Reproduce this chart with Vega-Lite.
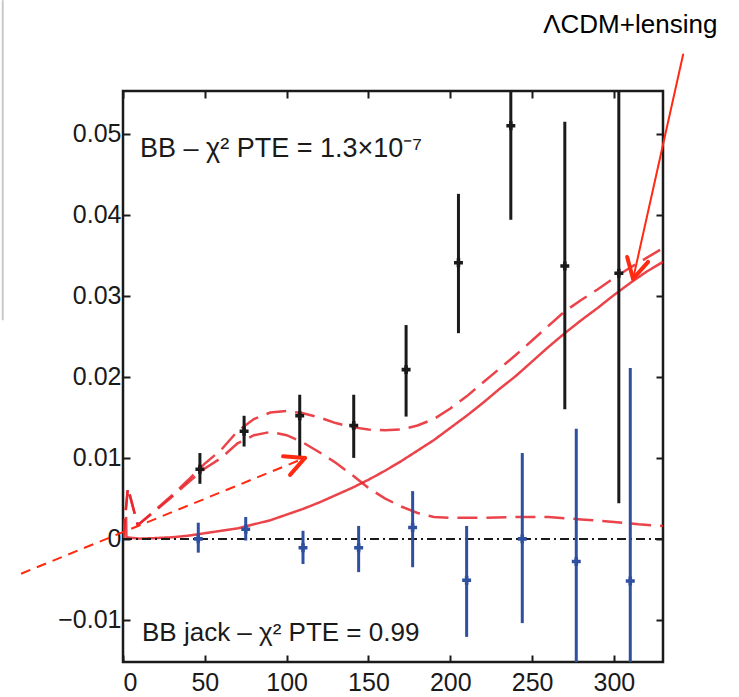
{
  "$schema": "https://vega.github.io/schema/vega-lite/v6.json",
  "width": 540,
  "height": 571,
  "autosize": {"type": "none"},
  "padding": {"left": 123, "top": 91, "right": 76, "bottom": 35},
  "background": "white",
  "config": {
    "view": {"stroke": "#1a1a1a", "strokeWidth": 2.5},
    "font": "Liberation Sans",
    "axis": {"domain": false, "grid": false, "tickColor": "#1a1a1a", "tickWidth": 2, "tickSize": -7, "labelFont": "Liberation Sans", "labelFontSize": 25, "labelColor": "#1a1a1a", "title": null}
  },
  "datasets": {
    "bb": [
      {"ell": 47, "val": 0.0086, "lo": 0.0068, "hi": 0.0106},
      {"ell": 74, "val": 0.0133, "lo": 0.0114, "hi": 0.0152},
      {"ell": 108, "val": 0.0152, "lo": 0.0100, "hi": 0.0178},
      {"ell": 141, "val": 0.0140, "lo": 0.0100, "hi": 0.0178},
      {"ell": 173, "val": 0.0209, "lo": 0.0151, "hi": 0.0264},
      {"ell": 205, "val": 0.0341, "lo": 0.0254, "hi": 0.0426},
      {"ell": 237, "val": 0.0510, "lo": 0.0394, "hi": 0.0600},
      {"ell": 270, "val": 0.0337, "lo": 0.0160, "hi": 0.0515},
      {"ell": 303, "val": 0.0328, "lo": 0.0044, "hi": 0.0600}
    ],
    "jack": [
      {"ell": 46, "val": 0.0000, "lo": -0.0017, "hi": 0.0020},
      {"ell": 75, "val": 0.0012, "lo": -0.0002, "hi": 0.0027},
      {"ell": 110, "val": -0.0011, "lo": -0.0031, "hi": 0.0010},
      {"ell": 144, "val": -0.0011, "lo": -0.0041, "hi": 0.0016},
      {"ell": 177, "val": 0.0014, "lo": -0.0035, "hi": 0.0059},
      {"ell": 210, "val": -0.0051, "lo": -0.0121, "hi": 0.0016},
      {"ell": 244, "val": 0.0000, "lo": -0.0104, "hi": 0.0106},
      {"ell": 277, "val": -0.0028, "lo": -0.0200, "hi": 0.0136},
      {"ell": 310, "val": -0.0052, "lo": -0.0200, "hi": 0.0211}
    ],
    "curves": [
      {"ell": 0, "val": 0, "model": "lensing"},
      {"ell": 1.9, "val": 0.0027, "model": "lensing"},
      {"ell": 2.1, "val": 0.0002, "model": "lensing"},
      {"ell": 10, "val": 0.00003, "model": "lensing"},
      {"ell": 20, "val": 0.0001, "model": "lensing"},
      {"ell": 30, "val": 0.0002, "model": "lensing"},
      {"ell": 40, "val": 0.0004, "model": "lensing"},
      {"ell": 50, "val": 0.0007, "model": "lensing"},
      {"ell": 60, "val": 0.0010, "model": "lensing"},
      {"ell": 70, "val": 0.0013, "model": "lensing"},
      {"ell": 80, "val": 0.0018, "model": "lensing"},
      {"ell": 90, "val": 0.0023, "model": "lensing"},
      {"ell": 100, "val": 0.0030, "model": "lensing"},
      {"ell": 110, "val": 0.0037, "model": "lensing"},
      {"ell": 120, "val": 0.0045, "model": "lensing"},
      {"ell": 130, "val": 0.0054, "model": "lensing"},
      {"ell": 140, "val": 0.0063, "model": "lensing"},
      {"ell": 150, "val": 0.0073, "model": "lensing"},
      {"ell": 160, "val": 0.0084, "model": "lensing"},
      {"ell": 170, "val": 0.0096, "model": "lensing"},
      {"ell": 180, "val": 0.0109, "model": "lensing"},
      {"ell": 190, "val": 0.0122, "model": "lensing"},
      {"ell": 200, "val": 0.0137, "model": "lensing"},
      {"ell": 210, "val": 0.0152, "model": "lensing"},
      {"ell": 220, "val": 0.0168, "model": "lensing"},
      {"ell": 230, "val": 0.0185, "model": "lensing"},
      {"ell": 240, "val": 0.0201, "model": "lensing"},
      {"ell": 250, "val": 0.0219, "model": "lensing"},
      {"ell": 260, "val": 0.0237, "model": "lensing"},
      {"ell": 270, "val": 0.0254, "model": "lensing"},
      {"ell": 280, "val": 0.0270, "model": "lensing"},
      {"ell": 290, "val": 0.0285, "model": "lensing"},
      {"ell": 300, "val": 0.0301, "model": "lensing"},
      {"ell": 310, "val": 0.0316, "model": "lensing"},
      {"ell": 320, "val": 0.0330, "model": "lensing"},
      {"ell": 330, "val": 0.0342, "model": "lensing"},
      {"ell": 0, "val": 0, "model": "tensor"},
      {"ell": 3, "val": 0.0063, "model": "tensor"},
      {"ell": 9, "val": 0.0017, "model": "tensor"},
      {"ell": 20, "val": 0.0035, "model": "tensor"},
      {"ell": 30, "val": 0.0052, "model": "tensor"},
      {"ell": 40, "val": 0.0070, "model": "tensor"},
      {"ell": 50, "val": 0.0087, "model": "tensor"},
      {"ell": 60, "val": 0.0100, "model": "tensor"},
      {"ell": 70, "val": 0.0118, "model": "tensor"},
      {"ell": 80, "val": 0.0128, "model": "tensor"},
      {"ell": 90, "val": 0.0132, "model": "tensor"},
      {"ell": 100, "val": 0.0128, "model": "tensor"},
      {"ell": 110, "val": 0.0119, "model": "tensor"},
      {"ell": 120, "val": 0.0107, "model": "tensor"},
      {"ell": 130, "val": 0.0094, "model": "tensor"},
      {"ell": 140, "val": 0.0079, "model": "tensor"},
      {"ell": 150, "val": 0.0063, "model": "tensor"},
      {"ell": 160, "val": 0.0050, "model": "tensor"},
      {"ell": 170, "val": 0.0040, "model": "tensor"},
      {"ell": 180, "val": 0.0032, "model": "tensor"},
      {"ell": 190, "val": 0.0027, "model": "tensor"},
      {"ell": 200, "val": 0.0026, "model": "tensor"},
      {"ell": 220, "val": 0.0026, "model": "tensor"},
      {"ell": 240, "val": 0.0027, "model": "tensor"},
      {"ell": 260, "val": 0.0027, "model": "tensor"},
      {"ell": 280, "val": 0.0024, "model": "tensor"},
      {"ell": 300, "val": 0.0021, "model": "tensor"},
      {"ell": 315, "val": 0.0018, "model": "tensor"},
      {"ell": 330, "val": 0.0016, "model": "tensor"},
      {"ell": 0, "val": 0, "model": "total"},
      {"ell": 3, "val": 0.0063, "model": "total"},
      {"ell": 9, "val": 0.0017, "model": "total"},
      {"ell": 20, "val": 0.0036, "model": "total"},
      {"ell": 30, "val": 0.0054, "model": "total"},
      {"ell": 40, "val": 0.0073, "model": "total"},
      {"ell": 50, "val": 0.0093, "model": "total"},
      {"ell": 60, "val": 0.0110, "model": "total"},
      {"ell": 70, "val": 0.0133, "model": "total"},
      {"ell": 80, "val": 0.0148, "model": "total"},
      {"ell": 90, "val": 0.0156, "model": "total"},
      {"ell": 100, "val": 0.0158, "model": "total"},
      {"ell": 110, "val": 0.0155, "model": "total"},
      {"ell": 120, "val": 0.0150, "model": "total"},
      {"ell": 130, "val": 0.0143, "model": "total"},
      {"ell": 140, "val": 0.0138, "model": "total"},
      {"ell": 150, "val": 0.0135, "model": "total"},
      {"ell": 160, "val": 0.0134, "model": "total"},
      {"ell": 170, "val": 0.0135, "model": "total"},
      {"ell": 180, "val": 0.0140, "model": "total"},
      {"ell": 190, "val": 0.0148, "model": "total"},
      {"ell": 200, "val": 0.0161, "model": "total"},
      {"ell": 210, "val": 0.0176, "model": "total"},
      {"ell": 220, "val": 0.0193, "model": "total"},
      {"ell": 230, "val": 0.0210, "model": "total"},
      {"ell": 240, "val": 0.0227, "model": "total"},
      {"ell": 250, "val": 0.0245, "model": "total"},
      {"ell": 260, "val": 0.0263, "model": "total"},
      {"ell": 270, "val": 0.0281, "model": "total"},
      {"ell": 280, "val": 0.0295, "model": "total"},
      {"ell": 290, "val": 0.0308, "model": "total"},
      {"ell": 300, "val": 0.0322, "model": "total"},
      {"ell": 310, "val": 0.0335, "model": "total"},
      {"ell": 320, "val": 0.0347, "model": "total"},
      {"ell": 330, "val": 0.0359, "model": "total"}
    ],
    "zero": [{"ell": 0, "ell2": 330, "val": 0}],
    "arrows": [
      {"ell": 342.3, "val": 0.0598, "ell2": 311.7, "val2": 0.0321, "w": 2},
      {"ell": 311.7, "val": 0.0321, "ell2": 308.1, "val2": 0.0348, "w": 4},
      {"ell": 311.7, "val": 0.0321, "ell2": 320.9, "val2": 0.0342, "w": 4},
      {"ell": 111.2, "val": 0.0100, "ell2": 97.8, "val2": 0.0102, "w": 4},
      {"ell": 111.2, "val": 0.0100, "ell2": 102.1, "val2": 0.0079, "w": 4}
    ],
    "dashedarrow": [
      {"ell": -62.3, "val": -0.0043, "ell2": 111.2, "val2": 0.0100}
    ],
    "edge": [
      {"ell": -73.5, "val": 0.0665, "val2": 0.0270}
    ],
    "notes": [
      {"ell": 10.4, "val": 0.0472, "txt": "BB – χ² PTE = 1.3×10⁻⁷", "size": 27},
      {"ell": 11.6, "val": -0.0126, "txt": "BB jack – χ² PTE = 0.99", "size": 26}
    ],
    "callout": [
      {"ell": 310, "val": 0.0625, "txt": "ΛCDM+lensing"}
    ]
  },
  "layer": [
    {
      "data": {"name": "curves"},
      "mark": {"type": "line", "strokeWidth": 2.5, "clip": true, "opacity": 0.85},
      "encoding": {
        "x": {"field": "ell", "type": "quantitative", "scale": {"domain": [0, 330], "nice": false, "zero": false},
              "axis": {"values": [0, 50, 100, 150, 200, 250, 300], "labelPadding": 15}},
        "y": {"field": "val", "type": "quantitative", "scale": {"domain": [-0.0152, 0.0553], "nice": false, "zero": false},
              "axis": {"values": [-0.01, 0, 0.01, 0.02, 0.03, 0.04, 0.05], "labelPadding": 9,
                       "labelExpr": "datum.value === 0 ? '0' : format(datum.value, '.2f')"}},
        "color": {"value": "#e8222a"},
        "strokeDash": {"field": "model", "type": "nominal", "legend": null,
                       "scale": {"domain": ["lensing", "tensor", "total"], "range": [[1, 0], [20, 9], [20, 9]]}},
        "detail": {"field": "model"}
      }
    },
    {
      "data": {"name": "zero"},
      "mark": {"type": "rule", "color": "#1a1a1a", "strokeWidth": 2, "strokeDash": [9, 4, 2, 4]},
      "encoding": {
        "x": {"field": "ell", "type": "quantitative", "axis": {"orient": "top", "labels": false, "values": [0, 50, 100, 150, 200, 250, 300]}},
        "x2": {"field": "ell2"},
        "y": {"field": "val", "type": "quantitative", "axis": {"orient": "right", "labels": false, "values": [-0.01, 0, 0.01, 0.02, 0.03, 0.04, 0.05]}}
      }
    },
    {
      "data": {"name": "bb"},
      "mark": {"type": "rule", "color": "#1a1a1a", "strokeWidth": 3, "clip": true},
      "encoding": {
        "x": {"field": "ell", "type": "quantitative", "axis": null},
        "y": {"field": "lo", "type": "quantitative", "axis": null},
        "y2": {"field": "hi"}
      }
    },
    {
      "data": {"name": "bb"},
      "mark": {"type": "point", "shape": "cross", "filled": true, "size": 80, "color": "#1a1a1a", "opacity": 1},
      "encoding": {
        "x": {"field": "ell", "type": "quantitative", "axis": null},
        "y": {"field": "val", "type": "quantitative", "axis": null}
      }
    },
    {
      "data": {"name": "jack"},
      "mark": {"type": "rule", "color": "#2f4f9f", "strokeWidth": 3, "clip": true},
      "encoding": {
        "x": {"field": "ell", "type": "quantitative", "axis": null},
        "y": {"field": "lo", "type": "quantitative", "axis": null},
        "y2": {"field": "hi"}
      }
    },
    {
      "data": {"name": "jack"},
      "mark": {"type": "point", "shape": "cross", "filled": true, "size": 80, "color": "#2f4f9f", "opacity": 1},
      "encoding": {
        "x": {"field": "ell", "type": "quantitative", "axis": null},
        "y": {"field": "val", "type": "quantitative", "axis": null}
      }
    },
    {
      "data": {"name": "arrows"},
      "mark": {"type": "rule", "color": "#ff2a10", "strokeCap": "round"},
      "encoding": {
        "x": {"field": "ell", "type": "quantitative", "axis": null},
        "y": {"field": "val", "type": "quantitative", "axis": null},
        "x2": {"field": "ell2"},
        "y2": {"field": "val2"},
        "strokeWidth": {"field": "w", "type": "quantitative", "scale": null}
      }
    },
    {
      "data": {"name": "dashedarrow"},
      "mark": {"type": "rule", "color": "#ff2a10", "strokeWidth": 2, "strokeDash": [10, 7]},
      "encoding": {
        "x": {"field": "ell", "type": "quantitative", "axis": null},
        "y": {"field": "val", "type": "quantitative", "axis": null},
        "x2": {"field": "ell2"},
        "y2": {"field": "val2"}
      }
    },
    {
      "data": {"name": "edge"},
      "mark": {"type": "rule", "color": "#c9c9c9", "strokeWidth": 2},
      "encoding": {
        "x": {"field": "ell", "type": "quantitative", "axis": null},
        "y": {"field": "val", "type": "quantitative", "axis": null},
        "y2": {"field": "val2"}
      }
    },
    {
      "data": {"name": "notes"},
      "mark": {"type": "text", "align": "left", "baseline": "alphabetic", "font": "Liberation Sans", "color": "#1a1a1a"},
      "encoding": {
        "x": {"field": "ell", "type": "quantitative", "axis": null},
        "y": {"field": "val", "type": "quantitative", "axis": null},
        "text": {"field": "txt"},
        "size": {"field": "size", "type": "quantitative", "scale": null}
      }
    },
    {
      "data": {"name": "callout"},
      "mark": {"type": "text", "align": "center", "baseline": "alphabetic", "font": "Liberation Sans", "fontSize": 26, "color": "#000000"},
      "encoding": {
        "x": {"field": "ell", "type": "quantitative", "axis": null},
        "y": {"field": "val", "type": "quantitative", "axis": null},
        "text": {"field": "txt"}
      }
    }
  ],
  "resolve": {"axis": {"x": "independent", "y": "independent"}}
}
